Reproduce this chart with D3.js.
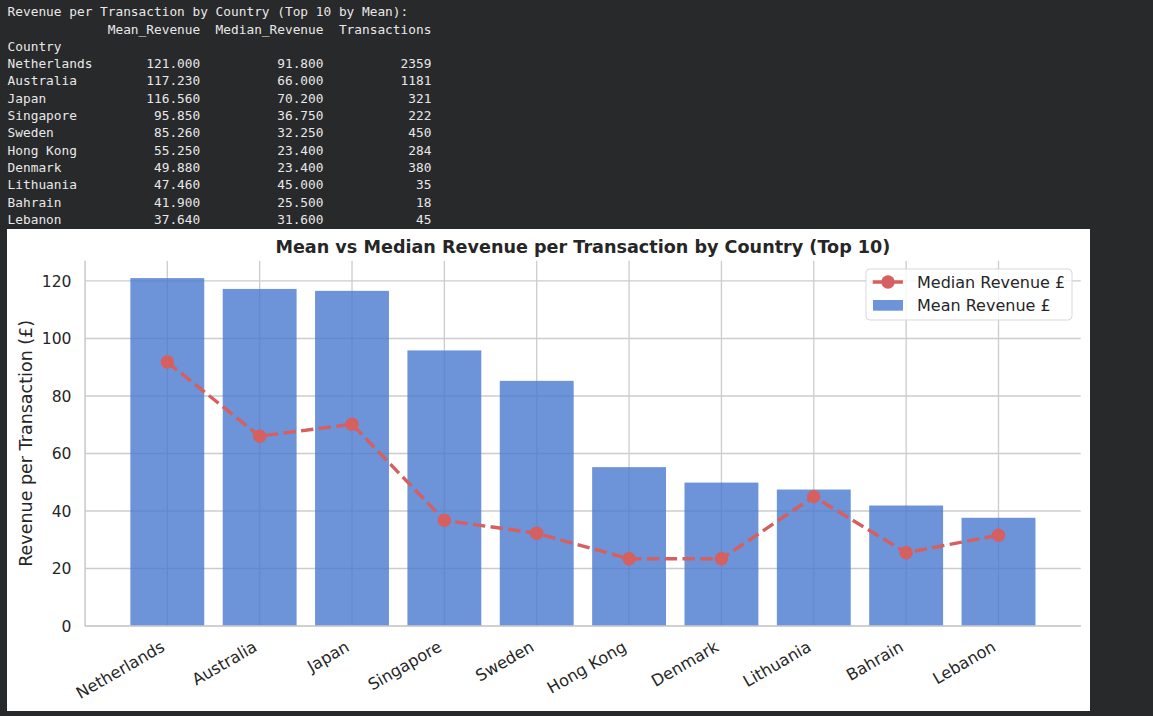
<!DOCTYPE html>
<html>
<head>
<meta charset="utf-8">
<script src="https://cdn.jsdelivr.net/npm/d3@7/dist/d3.min.js"></script>
<style>
  html, body { margin: 0; padding: 0; background: #28292b; }
  svg { display: block; }
</style>
</head>
<body>
<svg id="chart" width="1153" height="716"></svg>
<script>
// ---- data ----
const countries = ["Netherlands", "Australia", "Japan", "Singapore", "Sweden",
                   "Hong Kong", "Denmark", "Lithuania", "Bahrain", "Lebanon"];
const meanRevenue = [121.00, 117.23, 116.56, 95.85, 85.26, 55.25, 49.88, 47.46, 41.90, 37.64];
const medianRevenue = [91.80, 66.00, 70.20, 36.75, 32.25, 23.40, 23.40, 45.00, 25.50, 31.60];
const transactions = [2359, 1181, 321, 222, 450, 284, 380, 35, 18, 45];
const yTicks = [0, 20, 40, 60, 80, 100, 120];
const tableTitle = "Revenue per Transaction by Country (Top 10 by Mean):";
const tableColumns = ["Mean_Revenue", "Median_Revenue", "Transactions"];
const indexName = "Country";
const chartTitle = "Mean vs Median Revenue per Transaction by Country (Top 10)";
const yLabel = "Revenue per Transaction (£)";
const legendLabels = ["Median Revenue £", "Mean Revenue £"];

(function () {
const svg = d3.select("#chart");

// ---- console text output (pandas style) ----
const idxW = Math.max(indexName.length, ...countries.map(c => c.length));
const fmt3 = d3.format(".3f");
const colW = tableColumns.map((h, j) => {
  const vals = countries.map((c, i) => j === 0 ? fmt3(meanRevenue[i]) : j === 1 ? fmt3(medianRevenue[i]) : String(transactions[i]));
  return Math.max(h.length, ...vals.map(v => v.length));
});
const lines = [tableTitle];
lines.push(" ".repeat(idxW) + tableColumns.map((h, j) => "  " + h.padStart(colW[j])).join(""));
lines.push(indexName);
countries.forEach((c, i) => {
  const vals = [fmt3(meanRevenue[i]), fmt3(medianRevenue[i]), String(transactions[i])];
  lines.push(c.padEnd(idxW) + vals.map((v, j) => "  " + v.padStart(colW[j])).join(""));
});
svg.append("g").selectAll("text").data(lines).join("text")
  .attr("x", 7.6)
  .attr("y", (d, i) => 11.6 + i * 17.3)
  .attr("dy", "0.36em")
  .attr("xml:space", "preserve")
  .style("white-space", "pre")
  .attr("font-family", "'DejaVu Sans Mono', monospace")
  .attr("font-size", 12.8)
  .attr("fill", "#e8e8e8")
  .text(d => d);

// ---- white figure area ----
svg.append("rect").attr("x", 7).attr("y", 229).attr("width", 1083).attr("height", 482).attr("fill", "#ffffff");

// ---- axes ----
const axL = 85.1, axR = 1080.7, axT = 260.7, axB = 626;
const x = d3.scaleLinear().domain([-0.89, countries.length - 1 + 0.89]).range([axL, axR]);
const y = d3.scaleLinear().domain([0, 127.05]).range([axB, axT]);
const barW = x(0.8) - x(0);
const font = "'DejaVu Sans', sans-serif";
const gridColor = "#cccccc";

// grid
const grid = svg.append("g");
grid.selectAll("line.h").data(yTicks).join("line")
  .attr("class", "h")
  .attr("x1", axL).attr("x2", axR)
  .attr("y1", d => y(d)).attr("y2", d => y(d))
  .attr("stroke", gridColor).attr("stroke-width", 1.3);
grid.selectAll("line.v").data(countries).join("line")
  .attr("class", "v")
  .attr("x1", (d, i) => x(i)).attr("x2", (d, i) => x(i))
  .attr("y1", axT).attr("y2", axB)
  .attr("stroke", gridColor).attr("stroke-width", 1.3);

// bars
svg.append("g").selectAll("rect").data(meanRevenue).join("rect")
  .attr("x", (d, i) => x(i) - barW / 2)
  .attr("width", barW)
  .attr("y", d => y(d))
  .attr("height", d => axB - y(d))
  .attr("fill", "#4878d0").attr("fill-opacity", 0.8);

// spines
svg.append("line").attr("x1", axL).attr("x2", axL).attr("y1", axT).attr("y2", axB)
  .attr("stroke", gridColor).attr("stroke-width", 1.6);
svg.append("line").attr("x1", axL).attr("x2", axR).attr("y1", axB).attr("y2", axB)
  .attr("stroke", gridColor).attr("stroke-width", 1.6);

// median line
const red = "#d65f5f";
const line = d3.line().x((d, i) => x(i)).y(d => y(d));
svg.append("path").datum(medianRevenue)
  .attr("d", line).attr("fill", "none")
  .attr("stroke", red).attr("stroke-width", 3.4)
  .attr("stroke-dasharray", "12.4,5.4");
svg.append("g").selectAll("circle").data(medianRevenue).join("circle")
  .attr("cx", (d, i) => x(i)).attr("cy", d => y(d)).attr("r", 6.7)
  .attr("fill", red);

// y ticks
svg.append("g").selectAll("text").data(yTicks).join("text")
  .attr("x", 71.5).attr("y", d => y(d)).attr("dy", "0.36em")
  .attr("text-anchor", "end")
  .attr("font-family", font).attr("font-size", 15.6).attr("fill", "#262626")
  .text(d => d);

// x ticks
svg.append("g").selectAll("text").data(countries).join("text")
  .attr("transform", (d, i) => `translate(${x(i) - 1.5},${axB + 24}) rotate(-30)`)
  .attr("text-anchor", "end")
  .attr("font-family", font).attr("font-size", 16.2).attr("fill", "#262626")
  .text(d => d);

// y label
svg.append("text")
  .attr("transform", `translate(31.5,${(axT + axB) / 2}) rotate(-90)`)
  .attr("text-anchor", "middle")
  .attr("font-family", font).attr("font-size", 17.5).attr("fill", "#262626")
  .text(yLabel);

// title
svg.append("text")
  .attr("x", (axL + axR) / 2).attr("y", 253)
  .attr("text-anchor", "middle")
  .attr("font-family", font).attr("font-size", 17.6).attr("font-weight", "bold").attr("fill", "#262626")
  .text(chartTitle);

// legend
const lg = svg.append("g");
lg.append("rect").attr("x", 866).attr("y", 269).attr("width", 206).attr("height", 51)
  .attr("rx", 4).attr("fill", "#ffffff").attr("fill-opacity", 0.8)
  .attr("stroke", "#d9d9d9").attr("stroke-width", 1);
lg.append("line").attr("x1", 872.7).attr("x2", 903.3).attr("y1", 282).attr("y2", 282)
  .attr("stroke", red).attr("stroke-width", 3.4).attr("stroke-dasharray", "12.4,5.4");
lg.append("circle").attr("cx", 888).attr("cy", 282).attr("r", 6.7).attr("fill", red);
lg.append("rect").attr("x", 873).attr("y", 300).attr("width", 30).attr("height", 10.7)
  .attr("fill", "#4878d0").attr("fill-opacity", 0.8);
lg.selectAll("text").data(legendLabels).join("text")
  .attr("x", 917).attr("y", (d, i) => 282 + i * 23).attr("dy", "0.36em")
  .attr("font-family", font).attr("font-size", 16).attr("fill", "#262626")
  .text(d => d);
})();
</script>
</body>
</html>
